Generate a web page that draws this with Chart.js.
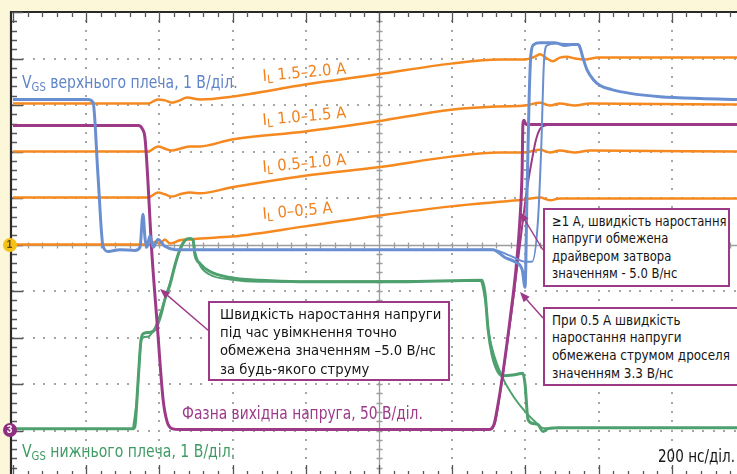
<!DOCTYPE html>
<html>
<head>
<meta charset="utf-8">
<script src="https://cdn.jsdelivr.net/npm/chart.js@4.4.0/dist/chart.umd.min.js"></script>
<style>
  html, body { margin: 0; padding: 0; background: #fdf7da; }
  #wrap { position: relative; width: 737px; height: 474px; overflow: hidden; }
  #scope { position: absolute; left: 0; top: 0; }
  .t { position: absolute; white-space: nowrap; line-height: 1; transform-origin: 0 85%;
       font-family: "Liberation Sans Narrow", "Arial Narrow", "DejaVu Sans Condensed", sans-serif; }
  .t sub { font-size: 0.72em; vertical-align: -0.22em; line-height: 0; }
  .il { font-size: 16px; color: #f0821e; }
  .box { position: absolute; box-sizing: border-box; background: #fff; border: 2.5px solid #9d3a88;
         font-family: "Liberation Sans Narrow", "Arial Narrow", "DejaVu Sans Condensed", sans-serif;
         color: #151515; white-space: nowrap; }
  .box span { display: inline-block; transform-origin: 0 0; }
  .mk { position: absolute; width: 14px; height: 14px; border-radius: 50%;
        font: bold 10px/14px "Liberation Sans", sans-serif; text-align: center; }
</style>
</head>
<body>
<div id="wrap">
  <canvas id="scope" width="737" height="474"></canvas>

  <div class="t" data-w="216" style="left:22px;top:73.5px;font-size:17px;color:#5f84c8">V<sub>GS</sub> верхнього плеча, 1 В/діл.</div>
  <div class="t il" data-w="84" data-rot="-5" style="left:263px;top:68.4px">I<sub>L</sub> 1.5–2.0 А</div>
  <div class="t il" data-w="84" data-rot="-5" style="left:263px;top:112.4px">I<sub>L</sub> 1.0–1.5 А</div>
  <div class="t il" data-w="84" data-rot="-5" style="left:263px;top:159.4px">I<sub>L</sub> 0.5–1.0 А</div>
  <div class="t il" data-w="70" data-rot="-5" style="left:263px;top:206.4px">I<sub>L</sub> 0–0.5 А</div>
  <div class="t" data-w="241" style="left:182px;top:404.5px;font-size:17px;color:#9d3a88">Фазна вихідна напруга, 50 В/діл.</div>
  <div class="t" data-w="213" style="left:22px;top:442.5px;font-size:17px;color:#3f9b63">V<sub>GS</sub> нижнього плеча, 1 В/діл.</div>
  <div class="t" data-w="77" style="left:658px;top:447.5px;font-size:17px;color:#151515">200 нс/діл.</div>

  <div class="box" style="left:208px;top:301px;width:242px;height:80px;padding:2px 0 0 9.5px;font-size:14.5px;line-height:18.2px"><span data-w="221">Швидкість наростання напруги<br>під час увімкнення точно<br>обмежена значенням –5.0 В/нс<br>за будь-якого струму</span></div>
  <div class="box" style="left:543px;top:208px;width:187px;height:79px;padding:3px 0 0 6.5px;font-size:14px;line-height:17.3px"><span data-w="175">≥1 А, швидкість наростання<br>напруги обмежена<br>драйвером затвора<br>значенням - 5.0 В/нс</span></div>
  <div class="box" style="left:543px;top:307px;width:220px;height:79px;padding:2.5px 0 0 6.5px;font-size:14px;line-height:17.7px"><span data-w="178">При 0.5 А швидкість<br>наростання напруги<br>обмежена струмом дроселя<br>значенням 3.3 В/нс</span></div>

  <div class="mk" style="left:2.5px;top:238px;background:#f4c01a;color:#5a4700">1</div>
  <div class="mk" style="left:2.5px;top:423px;background:#8e2f7f;color:#fff">3</div>
</div>

<script>
// time in ns from the left edge of the screen, values in divisions from the centre line
const nsPerDiv = 200;
const divsX = 10;
const divsY = 10;

// VGS high side (blue), two overlaid sweeps
const vgsHighT = [0, 205, 219, 232, 246, 260, 292, 333, 347, 355, 361, 366, 374, 383, 396, 415, 443, 1276, 1311, 1344,
  1371, 1391, 1399, 1404, 1410, 1415, 1423, 1440, 1481, 1508, 1527, 1544, 1549, 1557, 1568, 1585, 1604, 1636, 1686, 1768, 1877, 1978];
const vgsHighV = [3.12, 3.12, 3.05, 1.51, -0.04, -0.15, -0.11, -0.13, -0.06, 0.65, 0.11, -0.06, 0.19, -0.06, 0.11, -0.04, -0.11, -0.11, -0.11, -0.28,
  -0.37, -0.54, -0.92, 0.97, 3.12, 4.09, 4.30, 4.34, 4.34, 4.28, 4.30, 4.30, 4.24, 4.02, 3.76, 3.55, 3.42, 3.33, 3.25, 3.18, 3.14, 3.12];
const vgsHighT2 = [1276, 1311, 1358, 1399, 1418, 1434, 1443, 1451, 1459, 1481, 1544];
const vgsHighV2 = [-0.11, -0.11, -0.24, -0.37, -0.37, 0.49, 2.04, 3.98, 4.28, 4.32, 4.30];

// phase output voltage (magenta)
const phaseT = [0, 342, 353, 361, 380, 393, 410, 421, 434, 456, 1298, 1314, 1325, 1336, 1358, 1374, 1385, 1391, 1393, 1396, 1402, 1978];
const phaseV = [2.56, 2.56, 2.49, 2.26, -0.26, -1.61, -3.33, -3.81, -3.96, -3.98, -3.98, -3.87, -3.44, -2.90, -1.61, -0.54, 0.54, 1.61, 2.58, 2.67, 2.58, 2.58];
const phaseT2 = [1276, 1303, 1317, 1330, 1344, 1363, 1385, 1404, 1418, 1429, 1440, 1453, 1494];
const phaseV2 = [-3.98, -3.98, -3.83, -3.23, -2.47, -1.40, 0, 1.18, 1.83, 2.26, 2.49, 2.56, 2.58];

// VGS low side (green)
const vgsLowT = [0, 328, 333, 342, 350, 358, 374, 388, 402, 415, 429, 443, 456, 470, 484, 492, 497, 511, 538, 593,
  675, 784, 1057, 1281, 1290, 1298, 1309, 1322, 1336, 1371, 1393, 1399, 1407, 1421, 1434, 1448, 1462, 1494, 1978];
const vgsLowV = [-3.96, -3.96, -3.91, -2.90, -2.04, -1.91, -1.89, -1.83, -1.57, -1.18, -0.86, -0.43, -0.11, 0.09, 0.13, 0.09, -0.22, -0.41, -0.58, -0.71,
  -0.77, -0.80, -0.80, -0.77, -1.08, -1.83, -2.37, -2.69, -2.82, -2.80, -2.77, -3.01, -3.76, -3.85, -3.87, -4.02, -3.96, -3.94, -3.94];
const vgsLowT2 = [328, 340, 348, 356, 370, 390, 410, 430, 450, 470, 484, 492, 497, 511, 538, 593, 675, 1276, 1290, 1300,
  1315, 1340, 1370, 1400, 1425, 1450, 1494];
const vgsLowV2 = [-3.96, -3.2, -2.2, -2.0, -1.98, -1.75, -1.30, -0.80, -0.25, 0.08, 0.13, 0.10, -0.15, -0.45, -0.65, -0.75, -0.80, -0.78, -1.2, -1.9,
  -2.4, -2.9, -3.3, -3.6, -3.8, -3.95, -3.94];

// inductor current, four load ranges (orange)
const il3T = [0, 369, 396, 415, 434, 456, 475, 511, 598, 798, 997, 1197, 1330, 1399, 1426, 1440, 1459, 1475, 1494, 1513, 1535, 1563, 1598, 1978];
const il3V = [3.03, 3.03, 3.12, 3.10, 3.05, 3.10, 3.16, 3.12, 3.18, 3.44, 3.66, 3.89, 3.98, 3.98, 4.04, 4.09, 4.00, 3.94, 4.02, 4.04, 4.00, 3.98, 4.02, 4.02];
const il2T = [0, 369, 396, 415, 434, 456, 484, 511, 598, 798, 997, 1197, 1330, 1399, 1440, 1467, 1494, 1535, 1576, 1978];
const il2V = [2.00, 2.00, 2.11, 2.06, 2.02, 2.06, 2.11, 2.11, 2.26, 2.43, 2.65, 2.90, 2.97, 2.99, 3.05, 2.99, 3.03, 2.99, 3.03, 3.01];
const il1T = [0, 369, 396, 415, 434, 456, 484, 511, 598, 798, 997, 1197, 1330, 1399, 1440, 1467, 1494, 1535, 1576, 1978];
const il1V = [1.01, 1.01, 1.12, 1.08, 1.03, 1.08, 1.12, 1.10, 1.23, 1.48, 1.66, 1.89, 1.98, 1.98, 2.04, 1.98, 2.02, 1.98, 2.02, 2.00];
const il0T = [0, 374, 388, 402, 415, 429, 456, 484, 511, 598, 798, 997, 1197, 1330, 1399, 1440, 1467, 1494, 1978];
const il0V = [0, 0, 0.06, 0.02, 0.11, 0.02, 0.09, 0.11, 0.13, 0.17, 0.39, 0.62, 0.82, 0.92, 0.97, 1.01, 0.95, 0.99, 0.99];

const zip = (ts, vs) => ts.map((t, i) => ({ x: t, y: vs[i] }));

function trace(ts, vs, color, width) {
  return {
    data: zip(ts, vs),
    borderColor: color,
    borderWidth: width,
    pointRadius: 0,
    fill: false,
    cubicInterpolationMode: "monotone"
  };
}

// callout arrows, screen pixels: tail x, tail y, tip x, tip y
const arrows = [[209, 331, 160, 289], [543, 250, 520, 212], [543, 318, 520, 292]];

// squeeze the text to the widths it has in the picture (no narrow font here)
document.querySelectorAll("[data-w]").forEach(el => {
  const k = +el.dataset.w / el.offsetWidth;
  const rot = el.dataset.rot ? "rotate(" + el.dataset.rot + "deg) " : "";
  el.style.transform = rot + "scaleX(" + k.toFixed(3) + ")";
});

const scopeFrame = {
  id: "scopeFrame",
  beforeDatasetsDraw(chart) {
    const { ctx, chartArea: a, scales: { x, y } } = chart;
    const px = v => x.getPixelForValue(v);
    const py = v => y.getPixelForValue(v);
    ctx.save();
    ctx.fillStyle = "#ffffff";
    ctx.fillRect(a.left - 2, a.top - 1, a.right - a.left + 2, a.bottom - a.top + 1);

    // dotted graticule
    ctx.fillStyle = "#a5a5a5";
    for (let i = 1; i < divsX; i++) {
      if (i === divsX / 2) continue;
      const gx = Math.round(px(i * nsPerDiv));
      for (let k = 0; k <= divsY * 5; k++) ctx.fillRect(gx - 1, Math.round(py(5 - k * 0.2)) - 1, 2, 2);
    }
    for (let j = 1; j < divsY; j++) {
      if (j === divsY / 2) continue;
      const gy = Math.round(py(5 - j));
      for (let k = 0; k <= divsX * 7; k++) ctx.fillRect(Math.round(px(k * nsPerDiv / 7)) - 1, gy - 1, 2, 2);
    }

    // centre axes with minor ticks
    const cx = Math.round(px(nsPerDiv * divsX / 2)) + 0.5;
    const cy = Math.round(py(0)) + 0.5;
    ctx.strokeStyle = "#9c9c9c";
    ctx.lineWidth = 1.3;
    ctx.beginPath();
    ctx.moveTo(cx, a.top); ctx.lineTo(cx, a.bottom);
    ctx.moveTo(a.left, cy); ctx.lineTo(a.right, cy);
    for (let k = 0; k <= divsY * 5; k++) {
      const ty = Math.round(py(5 - k * 0.2)) + 0.5;
      ctx.moveTo(cx - 3, ty); ctx.lineTo(cx + 3, ty);
    }
    for (let k = 0; k <= divsX * 5; k++) {
      const tx = Math.round(px(k * nsPerDiv / 5)) + 0.5;
      ctx.moveTo(tx, cy - 3); ctx.lineTo(tx, cy + 3);
    }
    ctx.stroke();

    // frame on the left and top, ticks on left, top and bottom
    ctx.strokeStyle = "#2a2a2a";
    ctx.lineWidth = 2.2;
    ctx.beginPath();
    ctx.moveTo(a.left - 2, a.bottom); ctx.lineTo(a.left - 2, a.top);
    ctx.lineTo(a.right, a.top);
    ctx.stroke();
    ctx.lineWidth = 1.3;
    ctx.strokeStyle = "#555";
    ctx.beginPath();
    for (let k = 0; k <= divsY * 5; k++) {
      const ty = Math.round(py(5 - k * 0.2)) + 0.5;
      const len = k % 5 === 0 ? 11 : 5;
      ctx.moveTo(a.left - 1, ty); ctx.lineTo(a.left - 1 + len, ty);
    }
    const yb = py(-5);
    for (let k = 0; k <= divsX * 5; k++) {
      const tx = Math.round(px(k * nsPerDiv / 5)) + 0.5;
      const len = k % 5 === 0 ? 11 : 5;
      ctx.moveTo(tx, a.top); ctx.lineTo(tx, a.top + len);
      ctx.moveTo(tx, yb); ctx.lineTo(tx, yb - len - 1);
    }
    ctx.stroke();
    ctx.restore();
  },
  afterDatasetsDraw(chart) {
    const ctx = chart.ctx;
    ctx.save();
    ctx.strokeStyle = "#9d3a88";
    ctx.fillStyle = "#9d3a88";
    ctx.lineWidth = 1.4;
    arrows.forEach(([x0, y0, x1, y1]) => {
      const ang = Math.atan2(y1 - y0, x1 - x0);
      ctx.beginPath();
      ctx.moveTo(x0, y0);
      ctx.lineTo(x1 - 6 * Math.cos(ang), y1 - 6 * Math.sin(ang));
      ctx.stroke();
      ctx.beginPath();
      ctx.moveTo(x1, y1);
      ctx.lineTo(x1 - 10 * Math.cos(ang) + 4 * Math.sin(ang), y1 - 10 * Math.sin(ang) - 4 * Math.cos(ang));
      ctx.lineTo(x1 - 10 * Math.cos(ang) - 4 * Math.sin(ang), y1 - 10 * Math.sin(ang) + 4 * Math.cos(ang));
      ctx.closePath();
      ctx.fill();
    });
    ctx.restore();
  }
};

const blue = "#6a8fd0", magenta = "#9d3a88", green = "#4fa06f", orange = "#f5891f";

new Chart(document.getElementById("scope"), {
  type: "line",
  data: {
    datasets: [
      trace(vgsHighT, vgsHighV, blue, 3),
      trace(vgsHighT2, vgsHighV2, blue, 2),
      trace(phaseT, phaseV, magenta, 3),
      trace(phaseT2, phaseV2, magenta, 2),
      trace(vgsLowT, vgsLowV, green, 3),
      trace(vgsLowT2, vgsLowV2, green, 2),
      trace(il3T, il3V, orange, 2.5),
      trace(il2T, il2V, orange, 2.5),
      trace(il1T, il1V, orange, 2.5),
      trace(il0T, il0V, orange, 2.5)
    ]
  },
  options: {
    responsive: false,
    animation: false,
    devicePixelRatio: 1,
    layout: { padding: { left: 13, top: 12, right: 0, bottom: 0 } },
    plugins: { legend: { display: false }, tooltip: { enabled: false } },
    scales: {
      x: { type: "linear", display: false, min: 0, max: 1978 },
      y: { type: "linear", display: false, min: -4.935, max: 5 }
    }
  },
  plugins: [scopeFrame]
});
</script>
</body>
</html>
